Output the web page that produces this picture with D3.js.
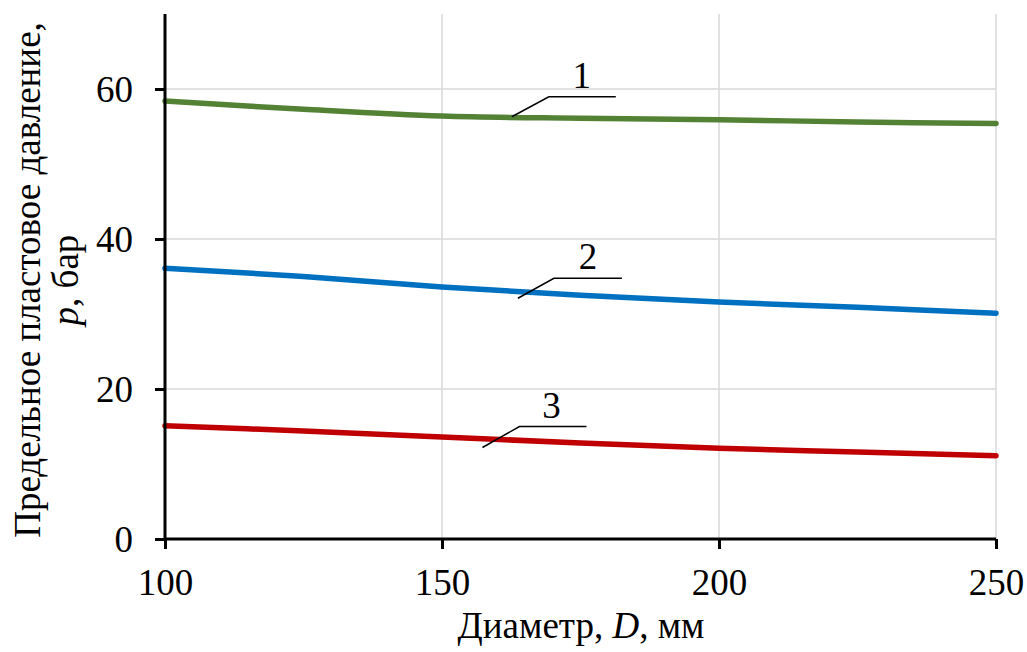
<!DOCTYPE html>
<html>
<head>
<meta charset="utf-8">
<script src="https://cdn.jsdelivr.net/npm/d3@7"></script>
<style>
  html, body { margin: 0; padding: 0; background: #fff; }
  svg { display: block; }
</style>
</head>
<body>
<svg id="chart" width="1027" height="652"></svg>
<script>
// Pipe diameter, mm
const diameters = [100, 125, 150, 175, 200, 225, 250];
// Limit reservoir pressure, bar, for the three cases
const series1 = [58.4, 57.3, 56.4, 56.1, 55.9, 55.6, 55.4];
const series2 = [36.1, 35.0, 33.6, 32.5, 31.6, 30.9, 30.1];
const series3 = [15.1, 14.4, 13.6, 12.8, 12.1, 11.6, 11.1];
const seriesNames = ["1", "2", "3"];
const xTicks = [100, 150, 200, 250];
const yTicks = [0, 20, 40, 60];

const colors = ["#548235", "#0070C0", "#C00000"];
const FONT = "Liberation Serif";
const FS = "37px";

const svg = d3.select("#chart");
const x = d3.scaleLinear().domain([100, 250]).range([165, 996]);
const y = d3.scaleLinear().domain([0, 70]).range([539, 14]);

// grid
const grid = svg.append("g");
grid.selectAll(".gx").data(xTicks.filter(d => d !== 100)).join("line")
  .attr("x1", d => x(d)).attr("x2", d => x(d))
  .attr("y1", y(0)).attr("y2", y(70))
  .attr("stroke", "#d9d9d9").attr("stroke-width", 1.5);
grid.selectAll(".gy").data(yTicks.filter(d => d !== 0)).join("line")
  .attr("x1", x(100)).attr("x2", x(250))
  .attr("y1", d => y(d)).attr("y2", d => y(d))
  .attr("stroke", "#d9d9d9").attr("stroke-width", 1.5);

// curves
const data = [series1, series2, series3];
const line = d3.line()
  .x((d, i) => x(diameters[i]))
  .y(d => y(d))
  .curve(d3.curveCatmullRom.alpha(0.5));
svg.append("g").selectAll("path").data(data).join("path")
  .attr("d", line)
  .attr("fill", "none")
  .attr("stroke", (d, i) => colors[i])
  .attr("stroke-width", 5.5)
  .attr("stroke-linecap", "round");

// axes
const xAxis = svg.append("g").attr("transform", `translate(0,${y(0)})`)
  .call(d3.axisBottom(x).tickValues(xTicks).tickSize(10).tickPadding(20).tickFormat(d3.format("d")));
const yAxis = svg.append("g").attr("transform", `translate(${x(100)},0)`)
  .call(d3.axisLeft(y).tickValues(yTicks).tickSize(10).tickPadding(22).tickFormat(d3.format("d")));
[xAxis, yAxis].forEach(a => {
  a.attr("font-family", FONT).attr("font-size", FS);
  a.select(".domain").attr("stroke", "#000").attr("stroke-width", 3)
    .attr("d", a === xAxis ? `M${x(100)},0H${x(250)}` : `M0,${y(70)}V${y(0)}`);
  a.selectAll(".tick line").attr("stroke", "#000").attr("stroke-width", 3);
  a.selectAll(".tick text").attr("fill", "#000")
    .style("font-family", FONT).style("font-size", FS);
});
yAxis.selectAll(".tick text").attr("dy", "0.34em");
xAxis.selectAll(".tick text").attr("dy", "0.70em");

// axis titles
const xt = svg.append("text").attr("x", 581).attr("y", 638)
  .attr("text-anchor", "middle").style("font-family", FONT).style("font-size", FS);
xt.append("tspan").text("Диаметр, ");
xt.append("tspan").attr("font-style", "italic").text("D");
xt.append("tspan").text(", мм");

const yt = svg.append("g").attr("transform", "translate(0,280) rotate(-90)");
yt.append("text").attr("x", 0).attr("y", 40).attr("text-anchor", "middle")
  .style("font-family", FONT).style("font-size", FS).text("Предельное пластовое давление,");
const yt2 = yt.append("text").attr("x", 0).attr("y", 78).attr("text-anchor", "middle")
  .style("font-family", FONT).style("font-size", FS);
yt2.append("tspan").attr("font-style", "italic").text("p");
yt2.append("tspan").text(", бар");

// curve labels with leader lines: anchor point in data units, pixel offsets for leader
const labelAnchors = [[162.6, 56.3], [163.7, 32.1], [157.3, 12.2]];
const leaders = [
  { dx: 37, dy: -20, len: 67, tx: 70, ty: -29 },
  { dx: 36, dy: -20, len: 68, tx: 70, ty: -29 },
  { dx: 37, dy: -21, len: 67, tx: 69, ty: -30 }
];
const lab = svg.append("g");
labelAnchors.forEach((a, i) => {
  const ax = x(a[0]), ay = y(a[1]), L = leaders[i];
  lab.append("path")
    .attr("d", `M${ax},${ay}L${ax + L.dx},${ay + L.dy}H${ax + L.dx + L.len}`)
    .attr("fill", "none").attr("stroke", "#000").attr("stroke-width", 1.5);
  lab.append("text").attr("x", ax + L.tx).attr("y", ay + L.ty)
    .attr("text-anchor", "middle").style("font-family", FONT).style("font-size", FS)
    .text(seriesNames[i]);
});
</script>
</body>
</html>
